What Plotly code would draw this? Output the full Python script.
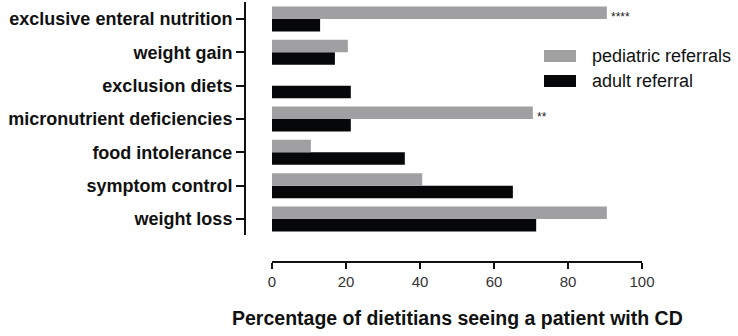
import plotly.graph_objects as go

categories = ["weight loss", "symptom control", "food intolerance",
              "micronutrient deficiencies", "exclusion diets",
              "weight gain", "exclusive enteral nutrition"]
pediatric = [90.5, 40.6, 10.5, 70.5, 0, 20.5, 90.5]
adult = [71.4, 65.1, 35.9, 21.3, 21.3, 17.0, 13.0]
significance = {"exclusive enteral nutrition": "****",
                "micronutrient deficiencies": "**"}
series_names = ["pediatric referrals", "adult referral"]
x_ticks = [0, 20, 40, 60, 80, 100]

GRAY = "#a0a0a2"
BLACK = "#050708"
FONT = "Arial, Liberation Sans, sans-serif"

W, H = 738, 336
ML, MR, MT, MB = 245, 96, 2, 74
PW = W - ML - MR
PH = H - MT - MB


def px_to_paper_x(px):
    return (px - ML) / PW


def px_to_paper_y(py):
    return (H - MB - py) / PH


fig = go.Figure()
fig.add_trace(go.Bar(y=categories, x=adult, orientation="h", name=series_names[1],
                     marker=dict(color=BLACK, line=dict(width=0))))
fig.add_trace(go.Bar(y=categories, x=pediatric, orientation="h", name=series_names[0],
                     marker=dict(color=GRAY, line=dict(width=0))))

annotations = []
for cat, txt in significance.items():
    i = categories.index(cat)
    annotations.append(dict(x=pediatric[i], y=cat, xref="x", yref="y", text=txt,
                            showarrow=False, xanchor="left", yanchor="middle",
                            xshift=2, yshift=2,
                            font=dict(family=FONT, size=12, color="#222222")))

# x-axis title
annotations.append(dict(x=50, xref="x", y=px_to_paper_y(318), yref="paper",
                        text="<b>Percentage of dietitians seeing a patient with CD</b>",
                        showarrow=False, xanchor="center", yanchor="middle",
                        font=dict(family=FONT, size=19.5, color="#111111")))

# manual legend
shapes = []
legend_items = [(series_names[0], GRAY, 56), (series_names[1], BLACK, 81)]
for name, col, cy in legend_items:
    shapes.append(dict(type="rect", xref="paper", yref="paper",
                       x0=px_to_paper_x(544), x1=px_to_paper_x(576),
                       y0=px_to_paper_y(cy + 6), y1=px_to_paper_y(cy - 6),
                       fillcolor=col, line=dict(width=0)))
    annotations.append(dict(x=px_to_paper_x(590), y=px_to_paper_y(cy), xref="paper", yref="paper",
                            text=name, showarrow=False, xanchor="left", yanchor="middle",
                            font=dict(family=FONT, size=18, color="#111111")))

fig.update_layout(
    width=W, height=H,
    margin=dict(l=ML, r=MR, t=MT, b=MB, autoexpand=False),
    paper_bgcolor="white", plot_bgcolor="white",
    barmode="group", bargap=0.25, bargroupgap=0,
    showlegend=False,
    annotations=annotations, shapes=shapes,
    xaxis=dict(domain=[px_to_paper_x(272), 1], range=[0, 100],
               anchor="free", position=0,
               tickvals=x_ticks, ticks="outside", ticklen=6, tickwidth=2, tickcolor="#111",
               showline=True, linewidth=2, linecolor="#111", showgrid=False, zeroline=False,
               tickfont=dict(family=FONT, size=15, color="#333333"), automargin=False),
    yaxis=dict(domain=[px_to_paper_y(235), 1], range=[-0.48, 6.51],
               anchor="free", position=0,
               categoryorder="array", categoryarray=categories,
               ticks="outside", ticklen=8, tickwidth=2, tickcolor="#111",
               showline=True, linewidth=2, linecolor="#111", showgrid=False, zeroline=False,
               tickfont=dict(family=FONT, size=18, color="#111111"), automargin=False),
)

# bold category labels
fig.update_yaxes(tickvals=categories, ticktext=["<b>%s</b>" % c for c in categories])

fig.write_html("out.html")
